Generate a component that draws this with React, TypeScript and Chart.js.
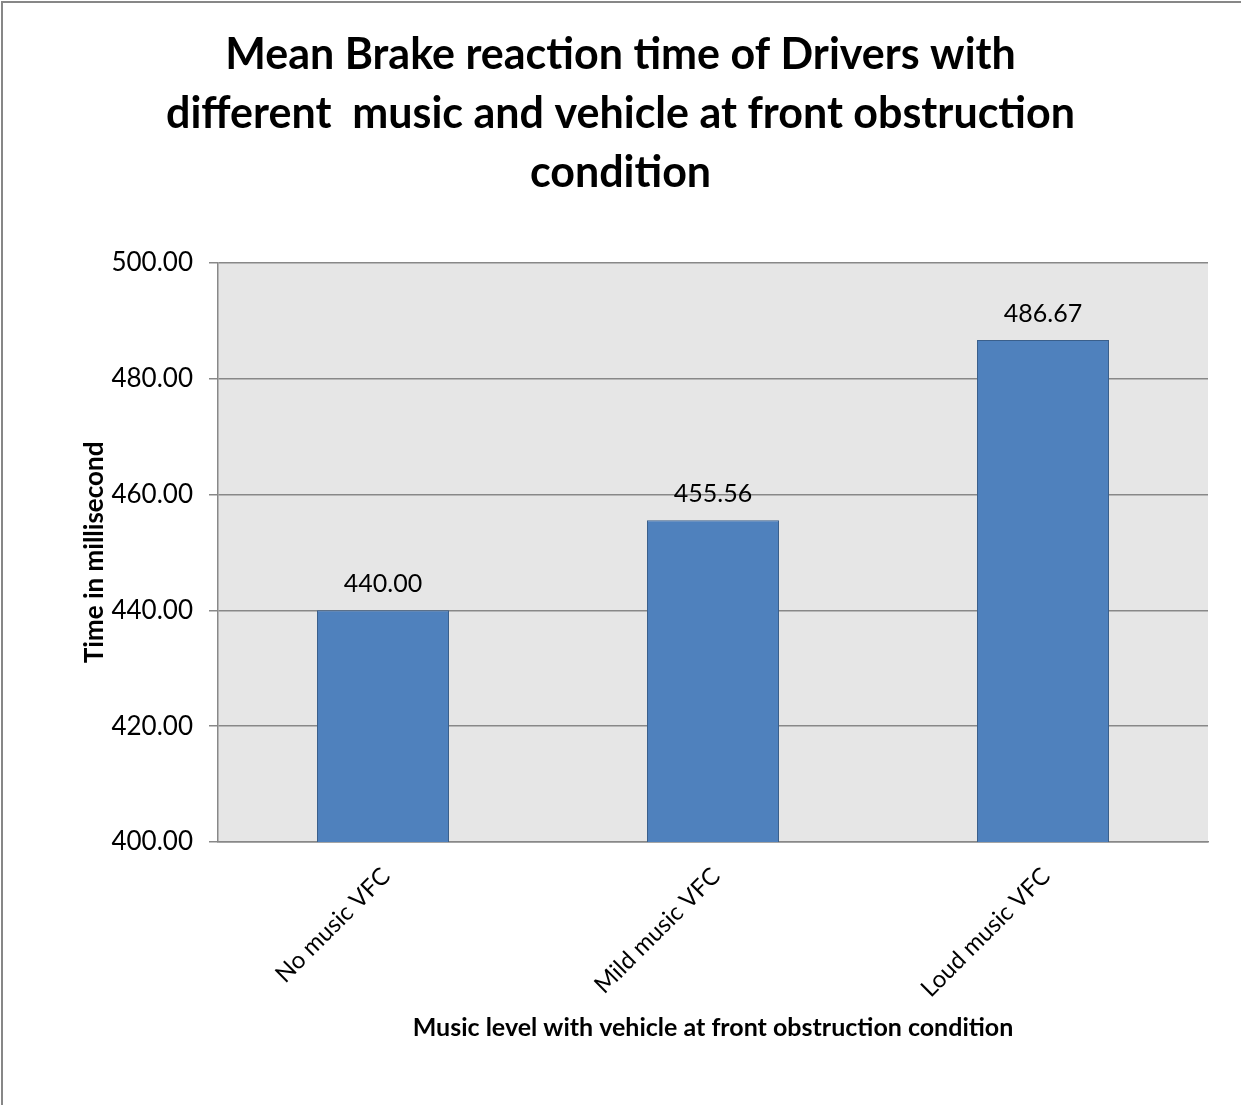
import { useEffect, useRef } from "react";
import { Chart, registerables } from "chart.js";

Chart.register(...registerables);

const categories = ["No music VFC", "Mild music VFC", "Loud music VFC"];
const meanTimes = [440.0, 455.56, 486.67];
const yTicks = [400, 420, 440, 460, 480, 500];
const titleLines = [
  "Mean Brake reaction time of Drivers with",
  "different  music and vehicle at front obstruction",
  "condition",
];
const yTitle = "Time in millisecond";
const xTitle = "Music level with vehicle at front obstruction condition";

const FONT = "Lato, 'Open Sans', sans-serif";

const backgroundPlugin = {
  id: "bgPlugin",
  beforeDraw(chart: any) {
    const { ctx, chartArea, width, height } = chart;
    ctx.save();
    ctx.fillStyle = "#ffffff";
    ctx.fillRect(0, 0, width, height);
    ctx.strokeStyle = "#878787";
    ctx.lineWidth = 2;
    ctx.strokeRect(2, 2, width + 20, height + 20);
    ctx.fillStyle = "#e6e6e6";
    ctx.fillRect(chartArea.left, chartArea.top, chartArea.right - chartArea.left, chartArea.bottom - chartArea.top);
    ctx.restore();
  },
};

const dataLabelPlugin = {
  id: "dataLabels",
  afterDatasetsDraw(chart: any) {
    const { ctx } = chart;
    const meta = chart.getDatasetMeta(0);
    const values = chart.data.datasets[0].data as number[];
    ctx.save();
    ctx.fillStyle = "#000000";
    ctx.font = `25px ${FONT}`;
    ctx.textAlign = "center";
    ctx.textBaseline = "middle";
    meta.data.forEach((bar: any, i: number) => {
      ctx.fillText(values[i].toFixed(2), bar.x, bar.y - 26);
    });
    ctx.restore();
  },
};

export default function App() {
  const ref = useRef<HTMLCanvasElement | null>(null);

  useEffect(() => {
    if (!ref.current) return;
    const chart = new Chart(ref.current, {
      type: "bar",
      data: {
        labels: categories,
        datasets: [
          {
            data: meanTimes,
            backgroundColor: "#4f81bd",
            borderColor: "#3a5f8b",
            borderWidth: 1,
            categoryPercentage: 1,
            barPercentage: 0.4,
          },
        ],
      },
      options: {
        animation: false,
        responsive: false,
        layout: { padding: 0 },
        plugins: {
          legend: { display: false },
          tooltip: { enabled: false },
          title: {
            display: true,
            text: titleLines,
            color: "#000000",
            font: { family: FONT, size: 43, weight: "bold", lineHeight: 1.37 },
            padding: { top: 26, bottom: 60 },
          },
        },
        scales: {
          x: {
            grid: { display: false, drawTicks: false },
            border: { display: true, color: "#888888", width: 1.5 },
            ticks: {
              color: "#000000",
              font: { family: FONT, size: 24 },
              minRotation: 45,
              maxRotation: 45,
              autoSkip: false,
              padding: 20,
              labelOffset: 3,
            },
            title: {
              display: true,
              text: xTitle,
              color: "#000000",
              font: { family: FONT, size: 25, weight: "bold", lineHeight: 1.2 },
              padding: { top: 0, bottom: 62 },
            },
            afterFit: (s: any) => {
              s.height = 1105 - 842;
            },
          },
          y: {
            min: 400,
            max: 500,
            afterBuildTicks: (s: any) => {
              s.ticks = yTicks.map((v) => ({ value: v }));
            },
            ticks: {
              color: "#000000",
              font: { family: FONT, size: 26 },
              padding: 16,
              callback: (v: any) => Number(v).toFixed(2),
            },
            grid: { color: "#888888", lineWidth: 1.5, tickLength: 9, drawTicks: true },
            border: { display: true, color: "#888888", width: 1.5 },
            title: {
              display: true,
              text: yTitle,
              color: "#000000",
              font: { family: FONT, size: 26, weight: "bold", lineHeight: 1.2 },
              padding: { top: 79, bottom: 0 },
            },
            afterFit: (s: any) => {
              s.width = 218;
            },
          },
          yRight: {
            position: "right",
            display: true,
            grid: { display: false },
            border: { display: false },
            ticks: { display: false },
            afterFit: (s: any) => {
              s.width = 33;
            },
          },
        },
      },
      plugins: [backgroundPlugin, dataLabelPlugin],
    } as any);
    return () => chart.destroy();
  }, []);

  return (
    <div style={{ position: "absolute", left: 0, top: 0, width: 1241, height: 1105 }}>
      <canvas ref={ref} width={1241} height={1105} style={{ display: "block" }} />
    </div>
  );
}
